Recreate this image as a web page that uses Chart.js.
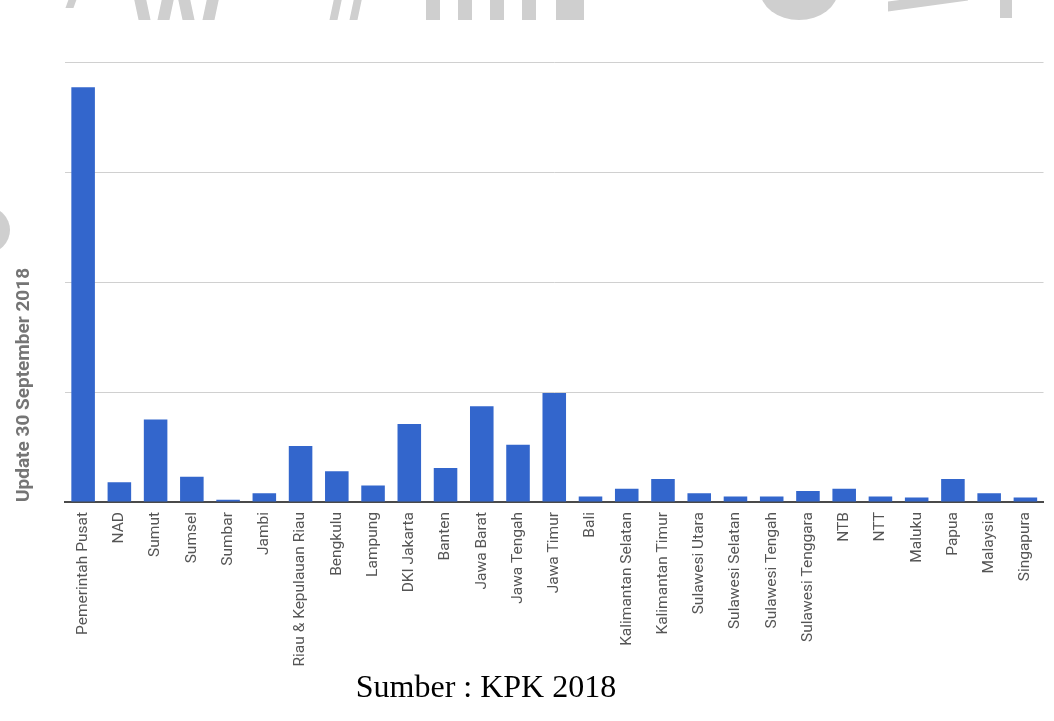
<!DOCTYPE html>
<html>
<head>
<meta charset="utf-8">
<script src="https://cdn.jsdelivr.net/npm/chart.js@4/dist/chart.umd.min.js"></script>
<style>
  html, body { margin: 0; padding: 0; background: #fff; }
  #wrap { position: relative; width: 1054px; height: 721px; overflow: hidden; }
  canvas { position: absolute; left: 0; top: 0; }
  #source { position: absolute; top: 668px; left: 0; width: 972px; text-align: center;
            font-family: "Liberation Serif", "Times New Roman", serif; font-size: 32px; color: #000; }
  .wm { position: absolute; background: #cfcfcf; }
</style>
</head>
<body>
<div id="wrap">
  <!-- faint watermark fragments at the top edge -->
  <div class="wm" style="left:68px;top:-6px;width:8px;height:14px;transform:skewX(-20deg)"></div>
  <div class="wm" style="left:136px;top:-4px;width:12px;height:24px;transform:skewX(12deg)"></div>
  <div class="wm" style="left:160px;top:-4px;width:12px;height:24px;transform:skewX(-12deg)"></div>
  <div class="wm" style="left:180px;top:-4px;width:12px;height:24px;transform:skewX(12deg)"></div>
  <div class="wm" style="left:205px;top:-4px;width:12px;height:24px;transform:skewX(-12deg)"></div>
  <div class="wm" style="left:332px;top:-4px;width:8px;height:24px;transform:skewX(-12deg)"></div>
  <div class="wm" style="left:352px;top:-4px;width:8px;height:24px;transform:skewX(-12deg)"></div>
  <div class="wm" style="left:426px;top:-4px;width:14px;height:24px"></div>
  <div class="wm" style="left:458px;top:-4px;width:14px;height:24px"></div>
  <div class="wm" style="left:490px;top:-4px;width:14px;height:24px"></div>
  <div class="wm" style="left:522px;top:-4px;width:14px;height:24px"></div>
  <div class="wm" style="left:556px;top:-4px;width:28px;height:24px"></div>
  <div class="wm" style="left:760px;top:-40px;width:78px;height:60px;border-radius:50%"></div>
  <div class="wm" style="left:888px;top:-4px;width:80px;height:10px;transform:skewY(-8deg)"></div>
  <div class="wm" style="left:1000px;top:-4px;width:12px;height:22px"></div>
  <div class="wm" style="left:-36px;top:207px;width:46px;height:46px;border-radius:50%"></div>
  <canvas id="c" width="1054" height="721"></canvas>
  <div id="source">Sumber : KPK 2018</div>
</div>
<script>
const categories = ["Pemerintah Pusat","NAD","Sumut","Sumsel","Sumbar","Jambi","Riau & Kepulauan Riau","Bengkulu","Lampung","DKI Jakarta","Banten","Jawa Barat","Jawa Tengah","Jawa Timur","Bali","Kalimantan Selatan","Kalimantan Timur","Sulawesi Utara","Sulawesi Selatan","Sulawesi Tengah","Sulawesi Tenggara","NTB","NTT","Maluku","Papua","Malaysia","Singapura"];
const values = [377, 18, 75, 23, 2, 8, 51, 28, 15, 71, 31, 87, 52, 99, 5, 12, 21, 8, 5, 5, 10, 12, 5, 4, 21, 8, 4];
const yTicks = [0, 100, 200, 300, 400];

new Chart(document.getElementById('c'), {
  type: 'bar',
  data: {
    labels: categories,
    datasets: [{ data: values, backgroundColor: '#3366cc', borderWidth: 0,
                 categoryPercentage: 1.0, barPercentage: 0.65 }]
  },
  options: {
    responsive: false,
    animation: false,
    layout: { padding: { top: 62, left: 0, right: 0, bottom: 0 } },
    plugins: { legend: { display: false }, tooltip: { enabled: false } },
    scales: {
      x: {
        grid: { display: false, drawTicks: false },
        border: { display: true, color: '#4a4a4a', width: 2 },
        ticks: { maxRotation: 90, minRotation: 90, autoSkip: false, padding: 10,
                 color: '#555', font: { family: 'Roboto', size: 15.5 } },
        afterFit: (s) => { s.height = 219; }
      },
      y: {
        min: yTicks[0], max: yTicks[yTicks.length - 1],
        afterBuildTicks: (s) => { s.ticks = yTicks.map(v => ({ value: v })); },
        grid: { color: '#d0d0d0', lineWidth: 1, drawTicks: false },
        border: { display: false },
        ticks: { display: false },
        title: { display: true, text: 'Update 30 September 2018', align: 'start',
                 color: '#757575', font: { family: 'Roboto', size: 19, weight: 'bold' },
                 padding: { top: 13, bottom: 0 } },
        afterFit: (s) => { s.width = 65; }
      }
    }
  }
});
</script>
</body>
</html>
